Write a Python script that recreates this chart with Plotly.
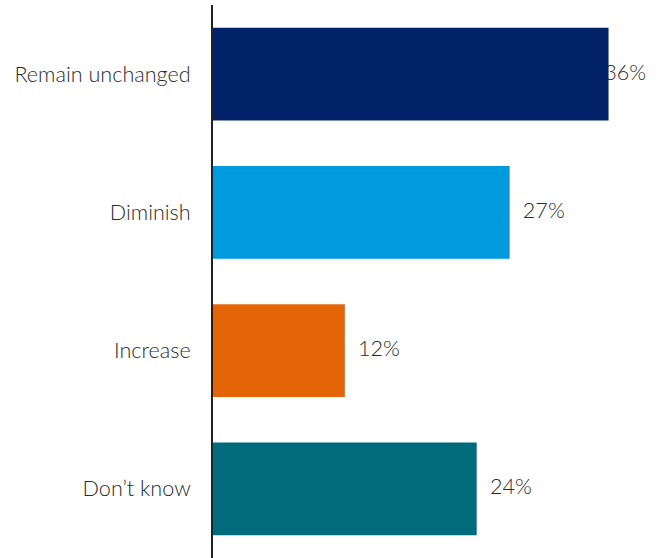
import plotly.graph_objects as go

# Survey responses
categories = ["Remain unchanged", "Diminish", "Increase", "Don\u2019t know"]
values = [36, 27, 12, 24]
bar_colors = ["#012169", "#009ADE", "#E46408", "#006B7D"]

x_max = 39.5
label_pad = 1.2       # gap between bar end and its value label (data units)
label_width = 3.9     # approx. width of a value label (data units)

labels = [f"{v}%" for v in values]
# keep labels inside the plot area; bars are drawn on top of them
label_x = [min(v + label_pad, x_max - label_width) for v in values]

font_family = "Lato, Roboto, sans-serif"
text_color = "#2b2b2b"
font_size = 21.6

fig = go.Figure()

# value labels on the base axis (below the bars)
fig.add_trace(go.Scatter(
    x=label_x, y=categories, mode="text", text=labels,
    textposition="middle right",
    textfont=dict(family=font_family, size=font_size, color=text_color, weight=300),
    xaxis="x", yaxis="y", hoverinfo="skip", showlegend=False,
    cliponaxis=False,
))

# bars on an overlaying axis so they sit above the labels
fig.add_trace(go.Bar(
    x=values, y=categories, orientation="h",
    marker=dict(color=bar_colors, line=dict(width=0)),
    xaxis="x2", yaxis="y", showlegend=False,
))

fig.update_layout(
    width=665, height=558,
    margin=dict(l=213, r=18, t=5, b=0),
    paper_bgcolor="white", plot_bgcolor="white",
    bargap=0.33,
    font=dict(family=font_family, size=font_size, color=text_color, weight=300),
    xaxis=dict(range=[0, x_max], visible=False, fixedrange=True),
    xaxis2=dict(range=[0, x_max], visible=False, overlaying="x", matches="x"),
    yaxis=dict(
        autorange="reversed", showgrid=False, zeroline=False,
        showline=True, linecolor="#222222", linewidth=2,
        ticks="", ticklabelstandoff=16,
        tickfont=dict(family=font_family, size=font_size, color=text_color, weight=300),
    ),
)

fig.write_html("out.html")
